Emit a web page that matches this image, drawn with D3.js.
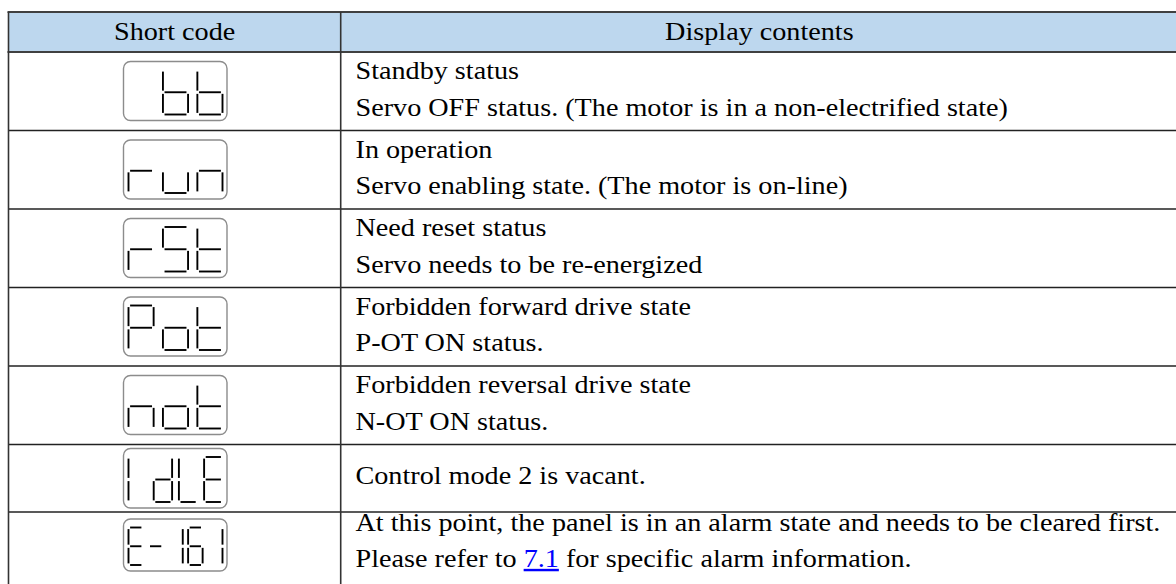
<!DOCTYPE html>
<html><head><meta charset="utf-8">
<script src="https://cdn.jsdelivr.net/npm/d3@7"></script>
<style>html,body{margin:0;padding:0;background:#fff;} svg{display:block;}</style>
</head><body><div id="chart"></div>
<script>
// ---------- data ----------
const headers = ["Short code", "Display contents"];
const codes = [" bb", "run", "rSt", "Pot", "not", "IdLE", "E-161"];
const firstLines = [
  "Standby status",
  "In operation",
  "Need reset status",
  "Forbidden forward drive state",
  "Forbidden reversal drive state",
  "Control mode 2 is vacant.",
  "At this point, the panel is in an alarm state and needs to be cleared first."
];
const secondLines = [
  "Servo OFF status. (The motor is in a non-electrified state)",
  "Servo enabling state. (The motor is on-line)",
  "Servo needs to be re-energized",
  "P-OT ON status.",
  "N-OT ON status.",
  "",
  "Please refer to | for specific alarm information."
];
const linkText = "7.1";
const segmentsOf = {" ":"", b:"cdefg", r:"eg", u:"cde", n:"ceg", S:"acdfg", t:"defg",
  P:"abefg", o:"cdeg", I:"ef", d:"bcdeg", L:"def", E:"adefg", "-":"g", "1":"bc", "6":"acdefg"};

// ---------- layout ----------
const W = 1176, H = 584;
const tableLeft = 8.5, colDiv = 340.7, tableRight = 1180;
const headTop = 12, headBottom = 52;
const rowH = [78.5, 78.5, 78.5, 78.5, 78.5, 67.5, 78.5];
const FONT = "'Liberation Serif','Times New Roman',serif";
const FS = 27.5, SX = 1.025, SY = 0.88, LINE = 36.5;

const rowTop = [];
rowH.reduce((acc, h, i) => { rowTop[i] = acc; return acc + h; }, headBottom);

const svg = d3.select("#chart").append("svg").attr("width", W).attr("height", H);

// header
svg.append("rect").attr("x", tableLeft).attr("y", headTop).attr("width", tableRight - tableLeft)
  .attr("height", headBottom - headTop).attr("fill", "#BDD7EE");

function txt(g, x, y, anchor) {
  return g.append("text").attr("transform", `translate(${x},${y}) scale(${SX},${SY})`)
    .attr("text-anchor", anchor).attr("font-family", FONT).attr("font-size", FS).attr("fill", "#000");
}
txt(svg, (tableLeft + colDiv) / 2, 39.5, "middle").text(headers[0]);
txt(svg, (colDiv + W) / 2 + 1, 39.5, "middle").text(headers[1]);

// row lines
rowTop.forEach((y, i) => {
  if (i === 0) return;
  svg.append("line").attr("x1", tableLeft).attr("x2", tableRight).attr("y1", y).attr("y2", y)
    .attr("stroke", "#222").attr("stroke-width", 1.4);
});
// header borders
[headTop, headBottom].forEach(y => svg.append("line").attr("x1", tableLeft - 1).attr("x2", tableRight)
  .attr("y1", y).attr("y2", y).attr("stroke", "#404040").attr("stroke-width", 2));
// verticals
[tableLeft, colDiv].forEach(x => svg.append("line").attr("x1", x).attr("x2", x)
  .attr("y1", headTop).attr("y2", H + 10).attr("stroke", "#333").attr("stroke-width", 1.6));

// text cells
codes.forEach((c, i) => {
  const L = rowTop[i], h = rowH[i];
  const lines = [firstLines[i], secondLines[i]].filter(s => s);
  let base;
  if (i === codes.length - 1) base = L + 18.5;
  else base = L + h / 2 + 6 - (lines.length - 1) * LINE / 2;
  lines.forEach((s, j) => {
    const t = txt(svg, 355.5, base + j * LINE, "start");
    if (s.includes("|")) {
      const parts = s.split("|");
      t.append("tspan").text(parts[0]);
      t.append("tspan").attr("fill", "#0000FF").attr("text-decoration", "underline").text(linkText);
      t.append("tspan").text(parts[1]);
    } else t.text(s);
  });
});

// seven-segment icons
const iconTopOff = [9.5, 9.5, 9.5, 9.5, 9.5, 4, 7];
const iconHt = [59, 59, 59, 59, 59, 59.5, 52];
const iconX = 123.5, iconW = 103.5;

function segPath(x, y, w, h, s) {
  const g = 1.6, m = y + h / 2;
  const P = {
    a: [[x + g, y], [x + w - g, y]],
    b: [[x + w, y + g], [x + w, m - g]],
    c: [[x + w, m + g], [x + w, y + h - g]],
    d: [[x + g, y + h], [x + w - g, y + h]],
    e: [[x, m + g], [x, y + h - g]],
    f: [[x, y + g], [x, m - g]],
    g: [[x + g, m], [x + w - g, m]]
  };
  return P[s];
}

codes.forEach((c, i) => {
  const top = rowTop[i] + iconTopOff[i], ih = iconHt[i];
  const g = svg.append("g");
  g.append("rect").attr("x", iconX).attr("y", top).attr("width", iconW).attr("height", ih)
    .attr("rx", 7).attr("ry", 7).attr("fill", "#fff").attr("stroke", "#8c8c8c").attr("stroke-width", 1.4);
  const chars = c.split("");
  const band = d3.scaleBand().domain(d3.range(chars.length))
    .range([iconX + 5, iconX + iconW - 4.5]).paddingInner(0.27).paddingOuter(0);
  const dy = top + 8.5, dh = ih - 14.5;
  chars.forEach((ch, k) => {
    const segs = (segmentsOf[ch] || "").split("");
    segs.forEach(s => {
      const p = segPath(band(k), dy, band.bandwidth(), dh, s);
      g.append("line").attr("x1", p[0][0]).attr("y1", p[0][1]).attr("x2", p[1][0]).attr("y2", p[1][1])
        .attr("stroke", "#000").attr("stroke-width", 1.9);
    });
  });
});
</script></body></html>
